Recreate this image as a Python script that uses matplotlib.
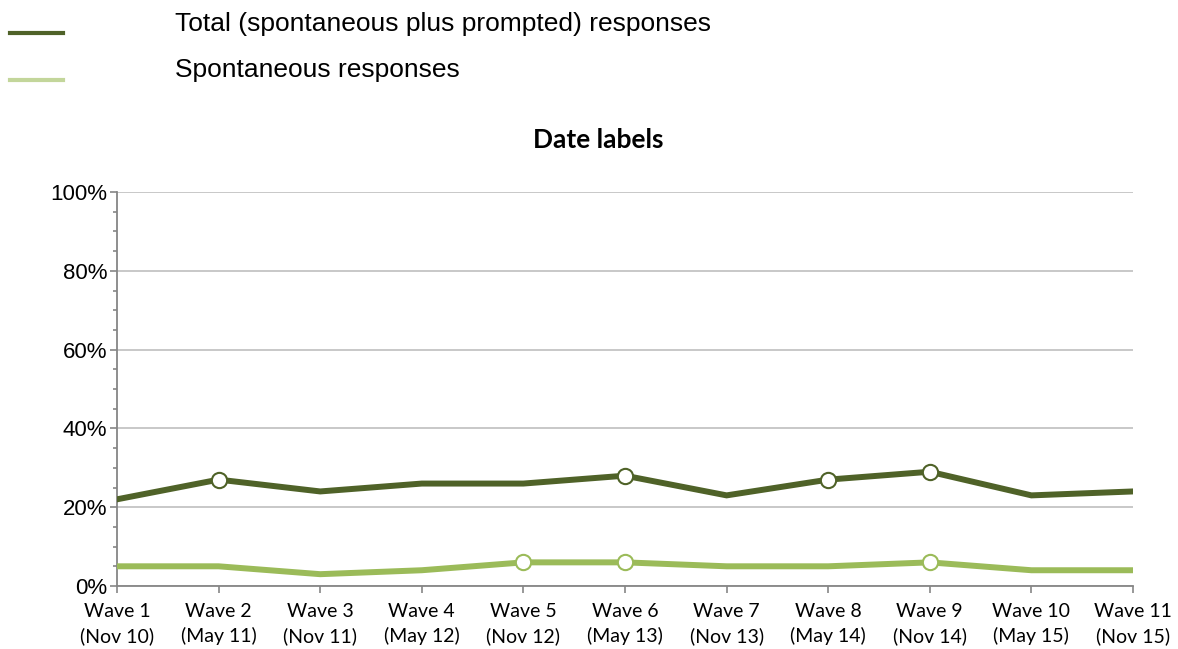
import matplotlib
matplotlib.use("Agg")
import matplotlib.pyplot as plt
from matplotlib.lines import Line2D
from matplotlib.ticker import MultipleLocator, FuncFormatter

waves = ["Wave 1\n(Nov 10)", "Wave 2\n(May 11)", "Wave 3\n(Nov 11)", "Wave 4\n(May 12)",
         "Wave 5\n(Nov 12)", "Wave 6\n(May 13)", "Wave 7\n(Nov 13)", "Wave 8\n(May 14)",
         "Wave 9\n(Nov 14)", "Wave 10\n(May 15)", "Wave 11\n(Nov 15)"]
total = [22, 27, 24, 26, 26, 28, 23, 27, 29, 23, 24]
spont = [5, 5, 3, 4, 6, 6, 5, 5, 6, 4, 4]
total_markers = [1, 5, 7, 8]
spont_markers = [4, 5, 8]

dark = "#4F6228"
light = "#9BBB59"
light_leg = "#C3D69B"

W, H = 1178, 649
fig = plt.figure(figsize=(W / 100, H / 100), dpi=100)
ax = fig.add_axes([117 / W, 1 - 586 / H, (1133 - 117) / W, (586 - 192) / H])

x = list(range(len(waves)))
ax.plot(x, total, color=dark, lw=4.3, solid_joinstyle="miter", zorder=3)
ax.plot(x, spont, color=light, lw=4.3, solid_joinstyle="miter", zorder=3)
ax.plot([x[i] for i in total_markers], [total[i] for i in total_markers], ls="none",
        marker="o", ms=11, mfc="white", mec=dark, mew=1.5, zorder=4)
ax.plot([x[i] for i in spont_markers], [spont[i] for i in spont_markers], ls="none",
        marker="o", ms=11, mfc="white", mec=light, mew=1.5, zorder=4)

ax.set_xlim(0, len(waves) - 1)
ax.set_ylim(0, 100)
ax.yaxis.set_major_locator(MultipleLocator(20))
ax.yaxis.set_minor_locator(MultipleLocator(5))
ax.yaxis.set_major_formatter(FuncFormatter(lambda v, p: f"{int(v)}%"))
ax.set_xticks(x)
ax.set_xticklabels(waves, fontsize=14, family=["Lato", "DejaVu Sans"], linespacing=1.5)
for lab in ax.get_yticklabels():
    lab.set_family(["Liberation Sans", "DejaVu Sans"])
    lab.set_fontsize(16)

ax.grid(axis="y", which="major", color="#BFBFBF", lw=1.2, zorder=0)
for s in ["top", "right"]:
    ax.spines[s].set_visible(False)
for s in ["left", "bottom"]:
    ax.spines[s].set_color("#868686")
    ax.spines[s].set_linewidth(1.3)
ax.tick_params(axis="y", which="major", length=5, color="#868686", width=1.2, pad=2)
ax.tick_params(axis="y", which="minor", length=3, color="#868686", width=1.2)
ax.tick_params(axis="x", which="major", length=5, color="#868686", width=1.2, pad=7)

fig.text(598 / W, 1 - 140 / H, "Date labels", ha="center", va="center", fontsize=19,
         fontweight="bold", family=["Lato", "DejaVu Sans"])

fig.add_artist(Line2D([10 / W, 63 / W], [1 - 33 / H, 1 - 33 / H], color=dark, lw=3,
                      transform=fig.transFigure))
fig.add_artist(Line2D([10 / W, 63 / W], [1 - 80 / H, 1 - 80 / H], color=light_leg, lw=3,
                      transform=fig.transFigure))
fig.text(175 / W, 1 - 24 / H, "Total (spontaneous plus prompted) responses", ha="left",
         va="center", fontsize=19, family=["Liberation Sans", "DejaVu Sans"])
fig.text(175 / W, 1 - 70 / H, "Spontaneous responses", ha="left",
         va="center", fontsize=19, family=["Liberation Sans", "DejaVu Sans"])

fig.savefig("out.png", dpi=100)
